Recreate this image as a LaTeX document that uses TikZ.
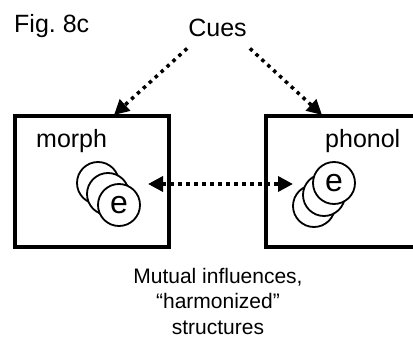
\documentclass[tikz,border=0pt]{standalone}
\usepackage{fontspec}
\setmainfont{Liberation Sans}
\usetikzlibrary{arrows.meta}

\begin{document}
\begin{tikzpicture}[x=1pt, y=-1pt,
	box/.style={draw, line width=3.2pt, minimum width=154pt, minimum height=131pt, inner sep=0pt},
	dots/.style={line width=3.5pt, dash pattern=on 3.5pt off 4.5pt},
	tip/.style={-{Triangle[length=15pt, width=15pt]}},
	ecircle/.style={circle, draw, fill=white, line width=1.8pt, minimum size=42pt, inner sep=0pt, font=\fontsize{32}{32}\selectfont},
	label/.style={font=\fontsize{25}{30}\selectfont, inner sep=0pt}]
	\useasboundingbox (0, 0) rectangle (413, 337);
	\clip (0, 0) rectangle (413, 337);

	\node[label, anchor=base west] (Fig) at (14, 33) {Fig.\ 8c};
	\node[label, anchor=base] (Cues) at (217.5, 37) {Cues};

	\node[box] (Morph) at (92, 181.5) {};
	\node[label, anchor=base west] (MorphName) at (36, 147) {morph};
	\node[box] (Phonol) at (343, 181.5) {};
	\node[label, anchor=base west] (PhonolName) at (325, 148) {phonol};

	% e circles, back to front
	\node[ecircle] (M1) at (98, 183) {};
	\node[ecircle] (M2) at (108, 194) {};
	\node[ecircle] (M3) at (119, 205) {e};
	\node[ecircle] (P1) at (314, 206) {};
	\node[ecircle] (P2) at (324, 195) {};
	\node[ecircle] (P3) at (334, 183) {e};

	\coordinate (MorphIn) at (114, 115);
	\coordinate (PhonolIn) at (322, 115);
	\coordinate (MorphE) at (148, 184);
	\coordinate (PhonolE) at (293, 184);

	\draw[dots, tip] ([xshift=-1pt, yshift=-11pt]Cues.south west) -- (MorphIn);
	\draw[dots, tip] ([xshift=3pt, yshift=-11pt]Cues.south east) -- (PhonolIn);
	\draw[dots, {Triangle[length=15pt, width=15pt]}-{Triangle[length=15pt, width=15pt]}] (MorphE) -- (PhonolE);

	\node[align=center, font=\fontsize{21}{25.5}\selectfont, inner sep=0pt, anchor=base] (Note) at (218, 334)
		{Mutual influences,\\“harmonized”\\structures};
\end{tikzpicture}
\end{document}
